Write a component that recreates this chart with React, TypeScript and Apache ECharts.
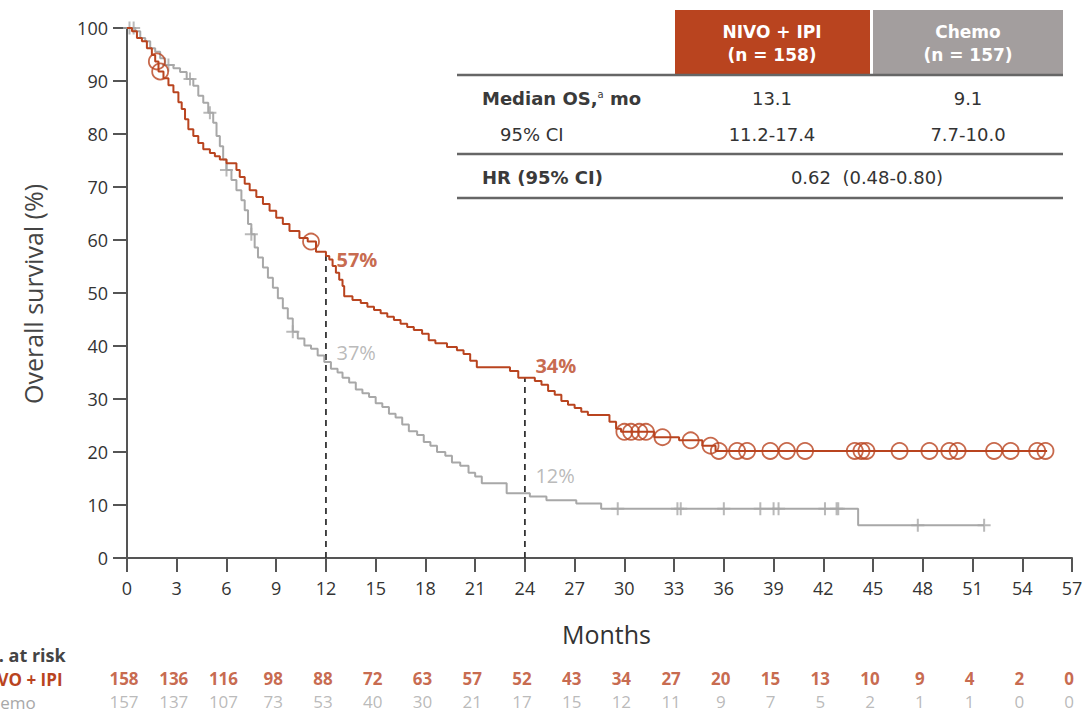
import React, { useEffect, useRef } from "react";
import * as echarts from "echarts";

const RED = "#B9441F";
const GRAY = "#A8A8A8";
const HEAD_GRAY = "#A39E9E";
const INK = "#333333";
const FONT = "'Open Sans', 'DejaVu Sans', sans-serif";
const TABLE_FONT = "'DejaVu Sans', sans-serif";

// Kaplan–Meier steps: [month, overall survival %]
const nivoSteps: [number, number][] = [
  [0, 100], [0.3, 99.4], [0.6, 98.1], [0.9, 97.5], [1.2, 96.2], [1.5, 94.9], [1.7, 93.7],
  [1.9, 91.8], [2.2, 90.5], [2.5, 89.2], [2.8, 87.9], [3.1, 86.0], [3.3, 84.7], [3.5, 82.8],
  [3.7, 80.9], [4.0, 79.6], [4.3, 78.3], [4.6, 77.1], [5.0, 76.4], [5.3, 75.8], [5.6, 75.2],
  [6.0, 74.5], [6.6, 73.2], [6.8, 71.9], [7.1, 70.6], [7.4, 69.4], [7.8, 68.1], [8.2, 66.8],
  [8.6, 65.5], [9.0, 64.2], [9.4, 63.0], [9.8, 61.7], [10.4, 60.4], [10.9, 59.7], [11.4, 57.8],
  [12.0, 57.0], [12.2, 56.3], [12.4, 55.1], [12.6, 53.8], [12.8, 52.5], [13.0, 51.3], [13.1, 49.4],
  [13.6, 48.7], [14.1, 48.1], [14.5, 47.4], [14.9, 46.8], [15.3, 46.2], [15.7, 45.5], [16.1, 44.9],
  [16.5, 44.2], [16.9, 43.6], [17.3, 43.0], [17.8, 42.3], [18.2, 41.1], [18.6, 40.5], [19.3, 39.8],
  [19.9, 39.2], [20.3, 38.5], [20.7, 37.2], [21.1, 36.0], [23.1, 35.3], [23.6, 34.0], [24.6, 33.4],
  [25.0, 32.7], [25.4, 31.5], [25.8, 30.8], [26.2, 29.6], [26.6, 28.9], [27.0, 28.3], [27.4, 27.6],
  [27.8, 27.0], [29.1, 25.7], [29.5, 24.4], [29.8, 23.8], [31.8, 22.8], [33.3, 22.2], [34.7, 21.2],
  [35.5, 20.2], [55.5, 20.2],
];

const chemoSteps: [number, number][] = [
  [0, 100], [0.5, 99.4], [0.8, 98.1], [1.1, 97.5], [1.4, 96.2], [1.7, 95.5], [2.0, 94.3],
  [2.3, 93.0], [2.8, 92.4], [3.2, 91.7], [3.6, 90.4], [4.0, 89.1], [4.3, 87.2], [4.6, 85.9],
  [4.9, 84.0], [5.2, 82.1], [5.4, 79.6], [5.6, 77.7], [5.8, 75.2], [6.0, 73.2], [6.3, 71.3],
  [6.6, 69.4], [6.9, 67.5], [7.1, 65.6], [7.3, 63.0], [7.5, 61.1], [7.7, 58.6], [7.9, 56.7],
  [8.2, 54.8], [8.5, 52.9], [8.8, 51.0], [9.1, 49.0], [9.4, 47.1], [9.7, 45.2], [10.0, 42.7],
  [10.3, 41.4], [10.7, 40.1], [11.1, 39.5], [11.5, 38.2], [11.9, 37.0], [12.3, 35.7], [12.7, 35.0],
  [13.0, 34.0], [13.4, 33.1], [13.8, 31.8], [14.2, 31.1], [14.6, 30.4], [15.0, 29.2], [15.4, 28.5],
  [15.8, 27.2], [16.2, 26.5], [16.6, 25.2], [17.0, 23.9], [17.5, 23.2], [17.9, 21.9], [18.3, 21.2],
  [18.7, 20.0], [19.2, 19.3], [19.6, 18.0], [20.1, 17.4], [20.6, 16.1], [21.0, 15.4], [21.4, 14.1],
  [22.9, 12.2], [24.3, 11.6], [25.3, 10.9], [27.1, 10.3], [28.6, 9.3], [44.1, 6.2], [51.7, 6.2],
];

// Censoring times (months)
const nivoCensored = [
  1.8, 2.0, 11.1, 30.0, 30.4, 30.9, 31.3, 32.3, 34.0, 35.2, 35.7, 36.8, 37.4, 38.8, 39.8, 40.9,
  43.9, 44.3, 44.6, 46.6, 48.4, 49.6, 50.1, 52.3, 53.3, 54.9, 55.4,
];
const chemoCensored = [
  0.15, 0.4, 2.5, 3.8, 5.0, 6.0, 7.5, 10.0, 29.6, 33.2, 33.4, 36.0, 38.2, 39.0, 39.3, 42.1, 42.8,
  42.9, 47.7, 51.7,
];

// Landmark survival rates
const landmarkMonths = [12, 24];
const nivoLandmark = [57, 34];
const chemoLandmark = [37, 12];

// Number at risk
const atRiskMonths = [0, 3, 6, 9, 12, 15, 18, 21, 24, 27, 30, 33, 36, 39, 42, 45, 48, 51, 54, 57];
const nivoAtRisk = [158, 136, 116, 98, 88, 72, 63, 57, 52, 43, 34, 27, 20, 15, 13, 10, 9, 4, 2, 0];
const chemoAtRisk = [157, 137, 107, 73, 53, 40, 30, 21, 17, 15, 12, 11, 9, 7, 5, 2, 1, 1, 0, 0];
const armNames = ["NIVO + IPI", "Chemo"];

function survivalAt(steps: [number, number][], t: number): number {
  let v = steps[0][1];
  for (const [m, s] of steps) if (m <= t) v = s;
  return v;
}

const PLUS = "path://M5,0L5,10M0,5L10,5";

function txt(text: string, x: number, y: number, opts: any = {}) {
  return {
    type: "text",
    x,
    y,
    style: {
      text,
      fill: INK,
      fontSize: 18,
      fontFamily: TABLE_FONT,
      align: "left",
      verticalAlign: "middle",
      ...opts,
    },
  };
}

function tableGraphics() {
  const hline = (y: number) => ({
    type: "line",
    shape: { x1: 457, y1: y, x2: 1063, y2: y },
    style: { stroke: "#666", lineWidth: 2.5 },
  });
  const head = { fill: "#fff", fontWeight: "bold", fontSize: 17, align: "center" };
  return [
    { type: "rect", shape: { x: 675, y: 10, width: 195, height: 64 }, style: { fill: RED } },
    { type: "rect", shape: { x: 873, y: 10, width: 190, height: 64 }, style: { fill: HEAD_GRAY } },
    txt("NIVO + IPI", 772, 32, head),
    txt("(n = 158)", 772, 55, head),
    txt("Chemo", 968, 32, head),
    txt("(n = 157)", 968, 55, head),
    hline(75),
    txt("Median OS,{sup|a} mo", 482, 98, {
      fontWeight: "bold",
      fill: "#3a3a3a",
      rich: {
        sup: {
          fontSize: 10,
          fontFamily: TABLE_FONT,
          fill: "#3a3a3a",
          verticalAlign: "top",
          lineHeight: 14,
        },
      },
    }),
    txt("13.1", 772, 98, { align: "center" }),
    txt("9.1", 968, 98, { align: "center" }),
    txt("95% CI", 500, 134),
    txt("11.2-17.4", 772, 134, { align: "center" }),
    txt("7.7-10.0", 968, 134, { align: "center" }),
    hline(154),
    txt("HR (95% CI)", 482, 177, { fontWeight: "bold", fill: "#3a3a3a" }),
    txt("0.62  (0.48-0.80)", 867, 177, { align: "center" }),
    hline(198),
  ];
}

function sideGraphics() {
  return [
    {
      type: "text",
      x: 33,
      y: 294,
      rotation: Math.PI / 2,
      style: {
        text: "Overall survival (%)",
        fill: "#444",
        fontSize: 25,
        fontFamily: FONT,
        align: "center",
        verticalAlign: "middle",
      },
    },
    txt("No. at risk", -27, 655, { fontFamily: FONT, fontWeight: "bold", fill: "#444", fontSize: 18 }),
    txt(armNames[0], -22, 679, { fontFamily: FONT, fontWeight: "bold", fill: RED, fontSize: 17 }),
    txt(armNames[1], -21, 702, { fontFamily: FONT, fill: GRAY, fontSize: 17 }),
  ];
}

export default function App() {
  const ref = useRef<HTMLDivElement>(null);

  useEffect(() => {
    if (!ref.current) return;
    const chart = echarts.init(ref.current, null, { renderer: "svg" });

    const landmarkLabel = (color: string, bold: boolean) => ({
      show: true,
      position: "right",
      distance: 10,
      color,
      fontSize: 20,
      fontWeight: bold ? "bold" : "normal",
      fontFamily: FONT,
      formatter: (p: any) => `${p.value[1]}%`,
    });

    const atRiskLabel = (color: string, bold: boolean) => ({
      show: true,
      position: "inside",
      offset: [-3, 0],
      formatter: (p: any) => String(p.value[2]),
      color,
      fontWeight: bold ? "bold" : "normal",
      fontSize: 17,
      fontFamily: FONT,
    });

    const option: any = {
      animation: false,
      backgroundColor: "#fff",
      textStyle: { fontFamily: FONT },
      grid: [
        { left: 127, right: 14, top: 28, bottom: 156, outerBoundsMode: "none" },
        { left: 127, right: 14, top: 667, height: 46, outerBoundsMode: "none" },
      ],
      xAxis: [
        {
          type: "value",
          gridIndex: 0,
          min: 0,
          max: 57,
          interval: 3,
          name: "Months",
          nameLocation: "middle",
          nameGap: 63,
          nameTextStyle: { fontSize: 25, color: INK, fontFamily: FONT, padding: [0, 0, 0, 14] },
          axisLine: { show: true, lineStyle: { color: "#555", width: 2 } },
          axisTick: { show: true, length: 14, lineStyle: { color: "#555", width: 2 } },
          axisLabel: { fontSize: 18, color: INK, margin: 21, fontFamily: FONT },
          splitLine: { show: false },
        },
        { type: "value", gridIndex: 1, min: 0, max: 57, show: false },
      ],
      yAxis: [
        {
          type: "value",
          gridIndex: 0,
          min: 0,
          max: 100,
          interval: 10,
          axisLine: { show: true, lineStyle: { color: "#555", width: 2 } },
          axisTick: { show: true, length: 14, lineStyle: { color: "#555", width: 2 } },
          axisLabel: { fontSize: 18, color: INK, margin: 19, fontFamily: FONT },
          splitLine: { show: false },
        },
        {
          type: "category",
          gridIndex: 1,
          data: armNames,
          inverse: true,
          show: false,
        },
      ],
      series: [
        {
          type: "line",
          name: "Chemo",
          step: "end",
          data: chemoSteps,
          symbol: "none",
          lineStyle: { color: GRAY, width: 2 },
          z: 2,
        },
        {
          type: "line",
          name: "NIVO + IPI",
          step: "end",
          data: nivoSteps,
          symbol: "none",
          lineStyle: { color: RED, width: 2 },
          z: 3,
        },
        {
          type: "scatter",
          data: chemoCensored.map((m) => [m, survivalAt(chemoSteps, m)]),
          symbol: PLUS,
          symbolSize: 13,
          itemStyle: { color: "none", borderColor: GRAY, borderWidth: 2 },
          z: 2,
        },
        {
          type: "scatter",
          data: nivoCensored.map((m) => [m, survivalAt(nivoSteps, m)]),
          symbol: "circle",
          symbolSize: 16,
          itemStyle: { color: "rgba(0,0,0,0)", borderColor: RED, borderWidth: 1.8 },
          z: 4,
        },
        ...landmarkMonths.map((m, i) => ({
          type: "line",
          data: [
            [m, 0],
            [m, nivoLandmark[i]],
          ],
          symbol: "none",
          lineStyle: { color: "#333", width: 1.8, type: [6, 5] },
          z: 1,
        })),
        {
          type: "scatter",
          symbolSize: 1,
          itemStyle: { color: "rgba(0,0,0,0)" },
          data: landmarkMonths.map((m, i) => ({
            value: [m, nivoLandmark[i]],
            label: { offset: [0, i === 0 ? 4 : -12] },
          })),
          label: landmarkLabel(RED, true),
          z: 5,
        },
        {
          type: "scatter",
          symbolSize: 1,
          itemStyle: { color: "rgba(0,0,0,0)" },
          data: landmarkMonths.map((m, i) => ({
            value: [m, chemoLandmark[i]],
            label: { offset: [0, i === 0 ? -9 : -19] },
          })),
          label: landmarkLabel(GRAY, false),
          z: 5,
        },
        {
          type: "scatter",
          xAxisIndex: 1,
          yAxisIndex: 1,
          symbolSize: 1,
          itemStyle: { color: "rgba(0,0,0,0)" },
          data: atRiskMonths.map((m, i) => [m, 0, nivoAtRisk[i]]),
          label: atRiskLabel(RED, true),
        },
        {
          type: "scatter",
          xAxisIndex: 1,
          yAxisIndex: 1,
          symbolSize: 1,
          itemStyle: { color: "rgba(0,0,0,0)" },
          data: atRiskMonths.map((m, i) => [m, 1, chemoAtRisk[i]]),
          label: atRiskLabel(GRAY, false),
        },
      ],
      graphic: [...tableGraphics(), ...sideGraphics()],
    };

    chart.setOption(option);
    return () => chart.dispose();
  }, []);

  return (
    <div
      ref={ref}
      style={{ position: "fixed", left: 0, top: 0, width: 1086, height: 714, background: "#fff" }}
    />
  );
}
